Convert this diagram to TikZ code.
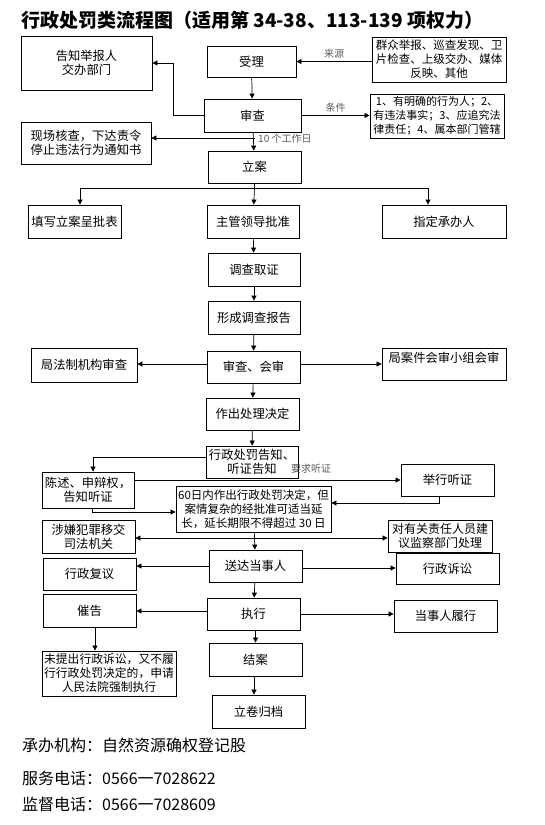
\documentclass[tikz,border=0pt]{standalone}
\usepackage{fontspec}
\setmainfont{Noto Sans CJK SC}
\usetikzlibrary{arrows.meta}

\begin{document}
\begin{tikzpicture}[
  x=1pt, y=-1pt,
  box/.style={draw, line width=0.8pt, minimum width=93pt, minimum height=32pt,
    inner sep=1pt, align=center, font=\fontsize{12.3}{14}\selectfont},
  small_box/.style={box, font=\fontsize{11.5}{14}\selectfont},
  tag/.style={font=\fontsize{10}{12}\selectfont, text=black!65, inner sep=1pt},
  note/.style={anchor=west, inner sep=0pt, font=\fontsize{16}{18}\selectfont},
  flow/.style={line width=0.7pt, -{Triangle[length=5pt,width=5pt]}},
  link/.style={line width=0.7pt}
  ]
	\useasboundingbox (0,0) rectangle (544,825);

	\node[anchor=west, inner sep=0pt, font=\bfseries\fontsize{19}{22}\selectfont] (title) at (21,20)
		{行政处罚类流程图（适用第 34-38、113-139 项权力）};

	% top part
	\node[box, minimum width=131pt, minimum height=54pt] (notify) at (86.5,63) {告知举报人\\交办部门};
	\node[box, minimum width=89pt, minimum height=31pt] (accept) at (251.5,61.5) {受理};
	\node[small_box, minimum width=134pt, minimum height=45pt, inner sep=0pt] (source) at (439,59.5)
		{群众举报、巡查发现、卫\\片检查、上级交办、媒体\\反映、其他};
	\node[box, minimum width=97pt, minimum height=33pt] (review) at (252.5,115.5) {审查};
	\node[box, minimum width=134pt, minimum height=44pt, inner sep=0pt,
		font=\fontsize{11}{14}\selectfont] (cond) at (437,116)
		{1、有明确的行为人；2、\\有违法事实；3、应追究法\\律责任；4、属本部门管辖};
	\node[box, minimum width=130pt, minimum height=42pt] (spot) at (86,143)
		{现场核查，下达责令\\停止违法行为通知书};
	\node[box] (file) at (254.5,167) {立案};

	\node[box, minimum height=33pt] (form) at (74.5,221.5) {填写立案呈批表};
	\node[box, minimum width=92pt, minimum height=33pt] (approve) at (253,221.5) {主管领导批准};
	\node[box, minimum width=124pt, minimum height=33pt] (assign) at (444,221.5) {指定承办人};

	\node[box, minimum width=92pt, minimum height=33pt] (evidence) at (254,269.5) {调查取证};
	\node[box, minimum width=92pt, minimum height=33pt] (report) at (254,317.5) {形成调查报告};
	\node[box] (joint) at (253.5,367) {审查、会审};
	\node[box, minimum width=106pt, minimum height=34pt] (legal) at (84,365) {局法制机构审查};
	\node[box, minimum width=124pt] (panel) at (444,364) {局案件会审小组会审\\\mbox{}};
	\node[box] (decide) at (252.5,414) {作出处理决定};
	\node[box, minimum width=92pt] (inform) at (252,462) {行政处罚告知、\\听证告知};

	% hearing part
	\node[box, minimum width=92pt, minimum height=36pt] (defend) at (88,490) {陈述、申辩权，\\告知听证};
	\node[box] (hearing) at (447.5,480) {举行听证};
	\node[small_box, minimum width=155pt, minimum height=46pt, inner sep=0pt] (limit) at (253.5,509)
		{60日内作出行政处罚决定，但\\案情复杂的经批准可适当延\\长，延长期限不得超过 30 日};
	\node[box, minimum height=33pt] (crime) at (88.5,536.5) {涉嫌犯罪移交\\司法机关};
	\node[box, minimum width=104pt, font=\fontsize{12}{14}\selectfont] (super) at (440,536)
		{对有关责任人员建\\议监察部门处理};

	% bottom part
	\node[box] (deliver) at (255.5,566) {送达当事人};
	\node[box] (recon) at (89.5,574) {行政复议};
	\node[box, minimum width=103pt, minimum height=31pt] (suit) at (447.5,568.5) {行政诉讼};
	\node[box] (exec) at (253.5,614) {执行};
	\node[box, minimum height=33pt] (urge) at (89.5,610.5) {催告};
	\node[box, minimum width=103pt] (perform) at (445.5,616) {当事人履行};
	\node[box, minimum width=134pt, minimum height=45pt, inner sep=0pt,
		font=\fontsize{11.8}{14}\selectfont] (court) at (109,673.5)
		{未提出行政诉讼，又不履\\行行政处罚决定的，申请\\人民法院强制执行};
	\node[box, minimum height=33pt] (close) at (255.5,659.5) {结案};
	\node[box, minimum height=33pt] (archive) at (258.5,711.5) {立卷归档};

	\node[note] (office) at (22,745) {承办机构：自然资源确权登记股};
	\node[note] (phone) at (22,778) {服务电话：0566一7028622};
	\node[note] (watch) at (22,804) {监督电话：0566一7028609};

	% connectors
	\draw[flow] (source.west |- accept.east) -- node[tag, above=2pt] {来源} (accept.east);
	\draw[flow] (accept) -- (review);
	\draw[flow] (review.west) -- ++(-30,0) |- (notify.east);
	\draw[flow] (review.east) -- node[tag, above=2pt] {条件} (cond.west |- review.east);
	\draw[flow] (review) -- (file);
	\coordinate (ten) at (254.5,138);
	\draw[flow] (ten) -- (ten -| spot.east);
	\node[tag, anchor=west] (days) at (257,139) {10 个工作日};

	\coordinate (split) at (254.5,188);
	\draw[link] (file) -- (split);
	\draw[link] ([xshift=5.5pt]form.north |- split) -- ([xshift=-16pt]assign.north |- split);
	\draw[flow] ([xshift=5.5pt]form.north |- split) -- ([xshift=5.5pt]form.north);
	\draw[flow] (split) -- (approve);
	\draw[flow] ([xshift=-16pt]assign.north |- split) -- ([xshift=-16pt]assign.north);

	\draw[flow] (approve) -- (evidence);
	\draw[flow] (evidence) -- (report);
	\draw[flow] (report) -- (joint);
	\draw[flow] ([yshift=3pt]joint.west) -- ([yshift=3pt]joint.west -| legal.east);
	\draw[flow] ([yshift=3pt]joint.east) -- ([yshift=3pt]joint.east -| panel.west);
	\draw[flow] (joint) -- (decide);
	\draw[flow] (decide) -- (inform);

	\draw[flow] ([yshift=5pt]inform.west) -| ([xshift=5pt]defend.north);
	\draw[flow] (defend.east |- hearing.west) -- (hearing.west);
	\node[tag] (ask) at (311,469) {要求听证};
	\draw[flow] ([xshift=-8.5pt]hearing.south) |- ([yshift=6pt]limit.east);
	\draw[flow] ([xshift=4pt]defend.south) |- ([yshift=-3pt]limit.west);

	\coordinate (fork) at (253.5,538);
	\draw[flow] (limit) -- (deliver);
	\draw[flow] (fork) -- (fork -| crime.east);
	\draw[flow] (fork) -- (fork -| super.west);

	\draw[flow] (deliver.west) -- (deliver.west -| recon.east);
	\draw[flow] ([yshift=-2pt]deliver.east) -- ([yshift=-2pt]deliver.east -| suit.west);
	\draw[flow] (deliver) -- (exec);
	\draw[flow] ([yshift=3pt]exec.west) -- ([yshift=3pt]exec.west -| urge.east);
	\draw[flow] (exec.east) -- (exec.east -| perform.west);
	\draw[flow] ([xshift=5.5pt]urge.south) -- ([xshift=5.5pt]urge.south |- court.north);
	\draw[flow] ([xshift=2pt]exec.south) -- ([xshift=2pt]exec.south |- close.north);
	\draw[flow] ([xshift=-1.5pt]close.south) -- ([xshift=-1.5pt]close.south |- archive.north);
\end{tikzpicture}
\end{document}
